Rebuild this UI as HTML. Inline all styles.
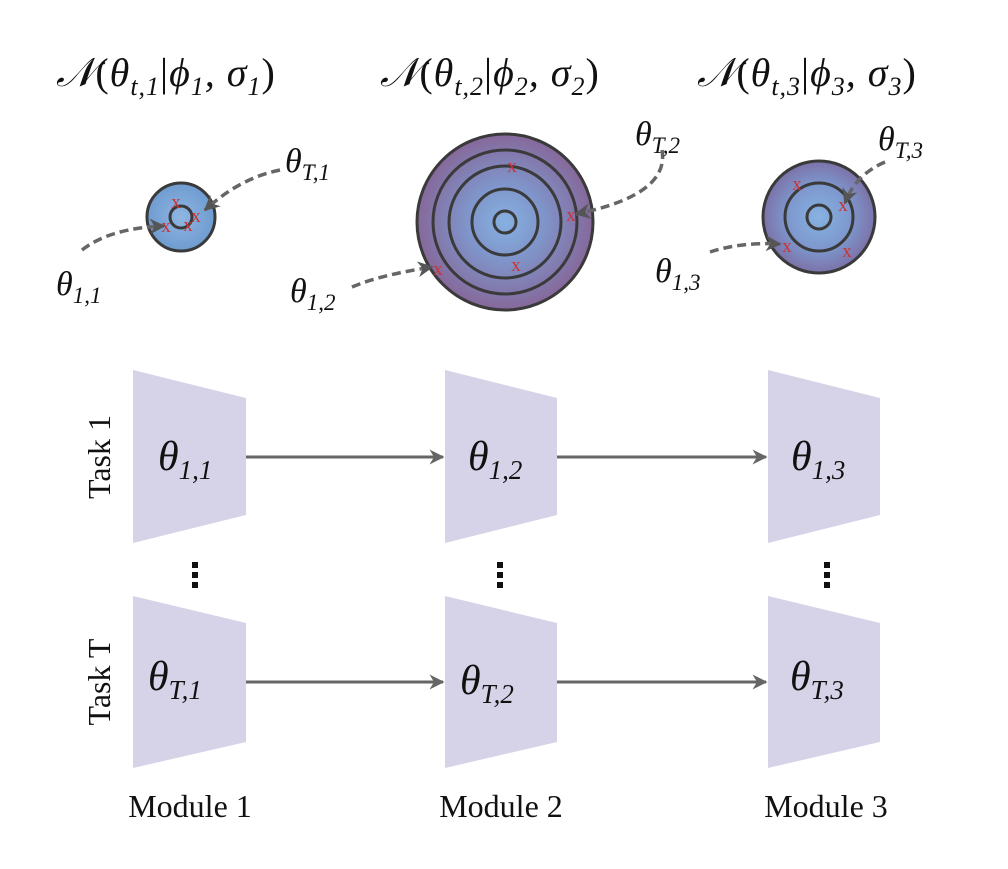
<!DOCTYPE html>
<html><head><meta charset="utf-8"><style>
html,body{margin:0;padding:0;background:#fff;}
svg text{font-family:"Liberation Serif",serif;}
</style></head><body>
<svg width="1008" height="864" viewBox="0 0 1008 864" xmlns="http://www.w3.org/2000/svg">
<defs>
<radialGradient id="g1"><stop offset="0" stop-color="#8fb6e2"/><stop offset="1" stop-color="#6f9bd0"/></radialGradient>
<radialGradient id="g2"><stop offset="0" stop-color="#86b0e0"/><stop offset="0.45" stop-color="#7f94c9"/><stop offset="1" stop-color="#86689a"/></radialGradient>
<radialGradient id="g3"><stop offset="0" stop-color="#86b2e2"/><stop offset="0.6" stop-color="#7d96cc"/><stop offset="1" stop-color="#7b72a8"/></radialGradient>
<marker id="ah" viewBox="0 0 10 10" refX="9" refY="5" markerWidth="5" markerHeight="5" orient="auto"><path d="M0,0L10,5L0,10L3,5z" fill="#666"/></marker>
<marker id="ah2" viewBox="0 0 10 10" refX="9" refY="5" markerWidth="4.5" markerHeight="4.5" orient="auto"><path d="M0,0L10,5L0,10L3,5z" fill="#555"/></marker>
</defs>
<g font-style="italic" font-size="40" fill="#111" letter-spacing="1">
<text x="56" y="86">𝒩<tspan font-style="normal">(</tspan>θ<tspan font-size="26" dy="9">t,1</tspan><tspan dy="-9" font-style="normal">|</tspan>ϕ<tspan font-size="26" dy="9">1</tspan><tspan dy="-9">, σ</tspan><tspan font-size="26" dy="9">1</tspan><tspan dy="-9" font-style="normal">)</tspan></text>
<text x="380" y="86">𝒩<tspan font-style="normal">(</tspan>θ<tspan font-size="26" dy="9">t,2</tspan><tspan dy="-9" font-style="normal">|</tspan>ϕ<tspan font-size="26" dy="9">2</tspan><tspan dy="-9">, σ</tspan><tspan font-size="26" dy="9">2</tspan><tspan dy="-9" font-style="normal">)</tspan></text>
<text x="697" y="86">𝒩<tspan font-style="normal">(</tspan>θ<tspan font-size="26" dy="9">t,3</tspan><tspan dy="-9" font-style="normal">|</tspan>ϕ<tspan font-size="26" dy="9">3</tspan><tspan dy="-9">, σ</tspan><tspan font-size="26" dy="9">3</tspan><tspan dy="-9" font-style="normal">)</tspan></text>
</g>
<g stroke="#3a3a3a" stroke-width="3">
<circle cx="181" cy="217" r="34" fill="url(#g1)"/>
<circle cx="181" cy="217" r="11" fill="none"/>
<circle cx="505" cy="222" r="88" fill="url(#g2)"/>
<circle cx="505" cy="222" r="72" fill="none"/>
<circle cx="505" cy="222" r="56" fill="none"/>
<circle cx="505" cy="222" r="33" fill="none"/>
<circle cx="505" cy="222" r="11" fill="none"/>
<circle cx="819" cy="217" r="56" fill="url(#g3)"/>
<circle cx="819" cy="217" r="34" fill="none"/>
<circle cx="819" cy="217" r="12" fill="none"/>
</g>
<g font-family="Liberation Sans" font-size="19" fill="#c33" text-anchor="middle">
<text x="176" y="208">x</text><text x="196" y="222">x</text><text x="166" y="232">x</text><text x="188" y="231">x</text>
<text x="512" y="172">x</text><text x="571" y="221">x</text><text x="516" y="271">x</text><text x="438" y="275">x</text>
<text x="797" y="190">x</text><text x="843" y="211">x</text><text x="787" y="252">x</text><text x="847" y="257">x</text>
</g>
<g fill="none" stroke="#666" stroke-width="3.5" stroke-dasharray="9,5" marker-end="url(#ah2)">
<path d="M82,250 Q110,228 164,226"/>
<path d="M280,170 Q240,178 205,210"/>
<path d="M352,287 Q380,275 432,267"/>
<path d="M662,150 Q670,195 576,214"/>
<path d="M710,252 Q740,242 780,244"/>
<path d="M885,162 Q855,175 845,203"/>
</g>
<g font-style="italic" font-size="34" fill="#111">
<text x="56" y="295">θ<tspan font-size="23" dy="8">1,1</tspan></text>
<text x="285" y="172">θ<tspan font-size="23" dy="8">T,1</tspan></text>
<text x="290" y="302">θ<tspan font-size="23" dy="8">1,2</tspan></text>
<text x="635" y="145">θ<tspan font-size="23" dy="8">T,2</tspan></text>
<text x="655" y="282">θ<tspan font-size="23" dy="8">1,3</tspan></text>
<text x="878" y="150">θ<tspan font-size="23" dy="8">T,3</tspan></text>
</g>
<g fill="#d6d3e8">
<polygon points="133,370 246,398 246,515 133,543"/>
<polygon points="445,370 557,398 557,515 445,543"/>
<polygon points="768,370 880,398 880,515 768,543"/>
<polygon points="133,596 246,623 246,742 133,768"/>
<polygon points="445,596 557,623 557,742 445,768"/>
<polygon points="768,596 880,623 880,742 768,768"/>
</g>
<g stroke="#666" stroke-width="3" marker-end="url(#ah)">
<line x1="246" y1="457" x2="443" y2="457"/><line x1="557" y1="457" x2="766" y2="457"/>
<line x1="246" y1="682" x2="443" y2="682"/><line x1="557" y1="682" x2="766" y2="682"/>
</g>
<g font-style="italic" font-size="42" fill="#111">
<text x="158" y="470">θ<tspan font-size="27" dy="9">1,1</tspan></text>
<text x="468" y="470">θ<tspan font-size="27" dy="9">1,2</tspan></text>
<text x="791" y="470">θ<tspan font-size="27" dy="9">1,3</tspan></text>
<text x="148" y="690">θ<tspan font-size="27" dy="9">T,1</tspan></text>
<text x="460" y="694">θ<tspan font-size="27" dy="9">T,2</tspan></text>
<text x="790" y="690">θ<tspan font-size="27" dy="9">T,3</tspan></text>
</g>
<g fill="#111">
<rect x="192" y="562" width="6" height="6"/><rect x="192" y="572" width="6" height="6"/><rect x="192" y="582" width="6" height="6"/>
<rect x="497" y="562" width="6" height="6"/><rect x="497" y="572" width="6" height="6"/><rect x="497" y="582" width="6" height="6"/>
<rect x="824" y="562" width="6" height="6"/><rect x="824" y="572" width="6" height="6"/><rect x="824" y="582" width="6" height="6"/>
</g>
<text x="0" y="0" font-size="32" fill="#111" text-anchor="middle" transform="translate(110,457) rotate(-90)">Task 1</text>
<text x="0" y="0" font-size="32" fill="#111" text-anchor="middle" transform="translate(110,682) rotate(-90)">Task T</text>
<g font-size="32" fill="#111" text-anchor="middle">
<text x="190" y="817">Module 1</text>
<text x="501" y="817">Module 2</text>
<text x="826" y="817">Module 3</text>
</g>
</svg>
</body></html>
